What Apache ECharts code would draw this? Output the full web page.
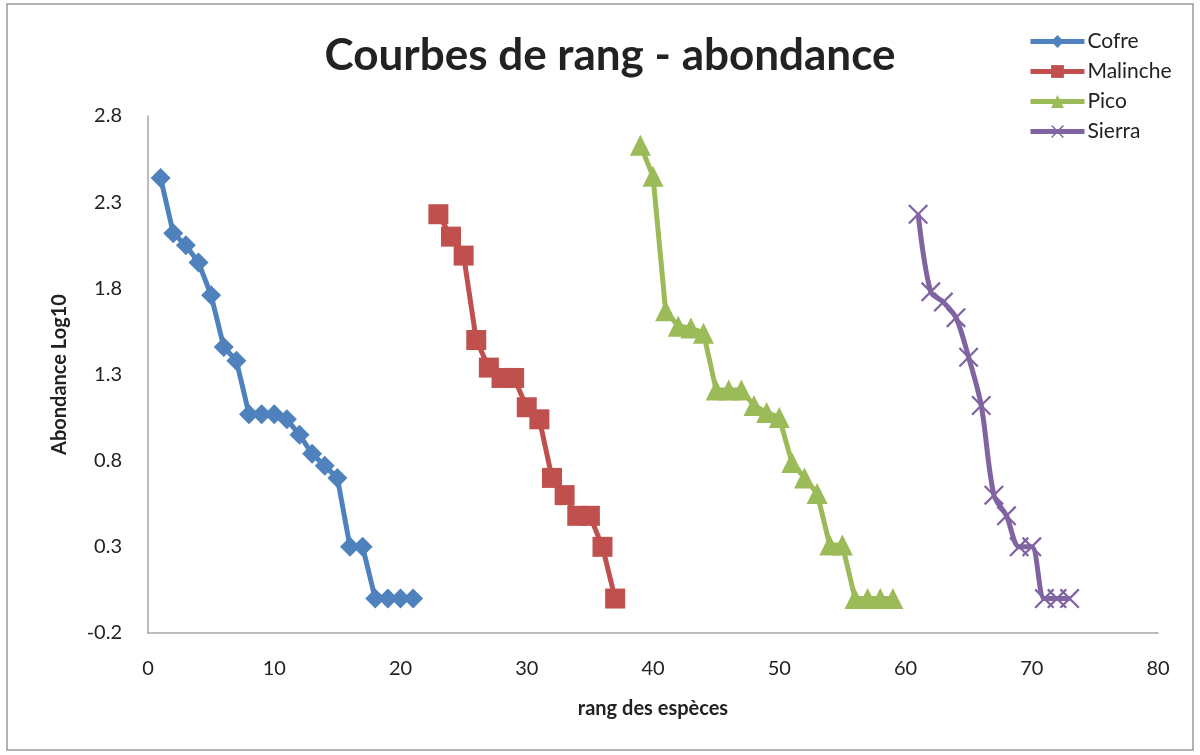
<!DOCTYPE html>
<html>
<head>
<meta charset="utf-8">
<title>Courbes de rang - abondance</title>
<script src="https://cdn.jsdelivr.net/npm/echarts@6.0.0/dist/echarts.min.js"></script>
<style>
  html, body { margin: 0; padding: 0; background: #fff; }
  #chart { width: 1200px; height: 755px; }
</style>
</head>
<body>
<div id="chart"></div>
<script>
  // rangs (axe x) de chaque site
  const cofreRang = [1, 2, 3, 4, 5, 6, 7, 8, 9, 10, 11, 12, 13, 14, 15, 16, 17, 18, 19, 20, 21]
  const malincheRang = [23, 24, 25, 26, 27, 28, 29, 30, 31, 32, 33, 34, 35, 36, 37]
  const picoRang = [39, 40, 41, 42, 43, 44, 45, 46, 47, 48, 49, 50, 51, 52, 53, 54, 55, 56, 57, 58, 59]
  const sierraRang = [61, 62, 63, 64, 65, 66, 67, 68, 69, 70, 71, 72, 73]

  // abondance log10
  const cofre = [2.44, 2.12, 2.05, 1.95, 1.76, 1.46, 1.38, 1.07, 1.07, 1.07, 1.04, 0.95, 0.84, 0.77, 0.70, 0.30, 0.30, 0, 0, 0, 0]
  const malinche = [2.23, 2.10, 1.99, 1.50, 1.34, 1.28, 1.28, 1.11, 1.04, 0.70, 0.60, 0.48, 0.48, 0.30, 0]
  const pico = [2.63, 2.45, 1.67, 1.58, 1.57, 1.54, 1.21, 1.21, 1.21, 1.12, 1.08, 1.05, 0.79, 0.70, 0.61, 0.31, 0.31, 0, 0, 0, 0]
  const sierra = [2.23, 1.78, 1.72, 1.63, 1.40, 1.12, 0.60, 0.48, 0.30, 0.30, 0, 0, 0]

  const seriesNames = ['Cofre', 'Malinche', 'Pico', 'Sierra']
  const colors = ['#4F81BD', '#C0504D', '#9BBB59', '#8064A2']

  const font = 'Lato, "Open Sans", sans-serif'
  const crossPath = 'path://M0,0.8L0.8,0L10,9.2L9.2,10Z M9.2,0L10,0.8L0.8,10L0,9.2Z'

  function pairs(xs, ys) {
    return xs.map(function (x, i) { return [x, ys[i]] })
  }

  const chart = echarts.init(document.getElementById('chart'), null, {renderer: 'canvas'})

  chart.setOption({
    animation: false,
    color: colors,
    textStyle: {fontFamily: font},
    title: {
      text: 'Courbes de rang - abondance',
      left: 605,
      textAlign: 'center',
      top: 29,
      textStyle: {
        fontFamily: font,
        fontSize: 44,
        fontWeight: 'bold',
        color: '#222'
      }
    },
    legend: {
      orient: 'vertical',
      left: 1023,
      top: 26,
      itemWidth: 54,
      itemHeight: 16,
      itemGap: 9,
      data: seriesNames,
      lineStyle: {width: 5},
      textStyle: {
        fontFamily: font,
        fontSize: 21,
        lineHeight: 20,
        color: '#222',
        padding: [0, 0, 0, -2]
      }
    },
    graphic: [{
      // cadre du graphique
      type: 'rect',
      shape: {x: 7, y: 4, width: 1186, height: 746},
      style: {fill: 'none', stroke: '#9a9a9a', lineWidth: 1.5},
      silent: true
    }],
    grid: {
      left: 148,
      right: 42,
      top: 116,
      bottom: 122
    },
    xAxis: {
      type: 'value',
      min: 0,
      max: 80,
      interval: 10,
      name: 'rang des espèces',
      nameLocation: 'middle',
      nameGap: 66,
      nameTextStyle: {fontFamily: font, fontSize: 20, fontWeight: 'bold', color: '#222'},
      axisLine: {show: true, onZero: false, lineStyle: {color: '#a6a6a6', width: 1.5}},
      axisTick: {show: false},
      splitLine: {show: false},
      axisLabel: {fontFamily: font, fontSize: 20, color: '#222', margin: 26}
    },
    yAxis: {
      type: 'value',
      min: -0.2,
      max: 2.8,
      interval: 0.5,
      name: 'Abondance Log10',
      nameLocation: 'middle',
      nameRotate: 90,
      nameGap: 78,
      nameTextStyle: {fontFamily: font, fontSize: 20, fontWeight: 'bold', color: '#222'},
      axisLine: {show: true, onZero: false, lineStyle: {color: '#a6a6a6', width: 1.5}},
      axisTick: {show: false},
      splitLine: {show: false},
      axisLabel: {
        fontFamily: font,
        fontSize: 20,
        color: '#222',
        margin: 26,
        formatter: function (v) { return v.toFixed(1) }
      }
    },
    series: [
      {
        name: 'Cofre',
        type: 'line',
        symbol: 'diamond',
        symbolSize: 20,
        lineStyle: {width: 5},
        data: pairs(cofreRang, cofre)
      },
      {
        name: 'Malinche',
        type: 'line',
        symbol: 'rect',
        symbolSize: 20,
        lineStyle: {width: 5},
        data: pairs(malincheRang, malinche)
      },
      {
        name: 'Pico',
        type: 'line',
        symbol: 'triangle',
        symbolSize: 21,
        lineStyle: {width: 5},
        data: pairs(picoRang, pico)
      },
      {
        name: 'Sierra',
        type: 'line',
        smooth: 0.3,
        symbol: crossPath,
        symbolSize: 20,
        lineStyle: {width: 5},
        data: pairs(sierraRang, sierra)
      }
    ]
  })
</script>
</body>
</html>
